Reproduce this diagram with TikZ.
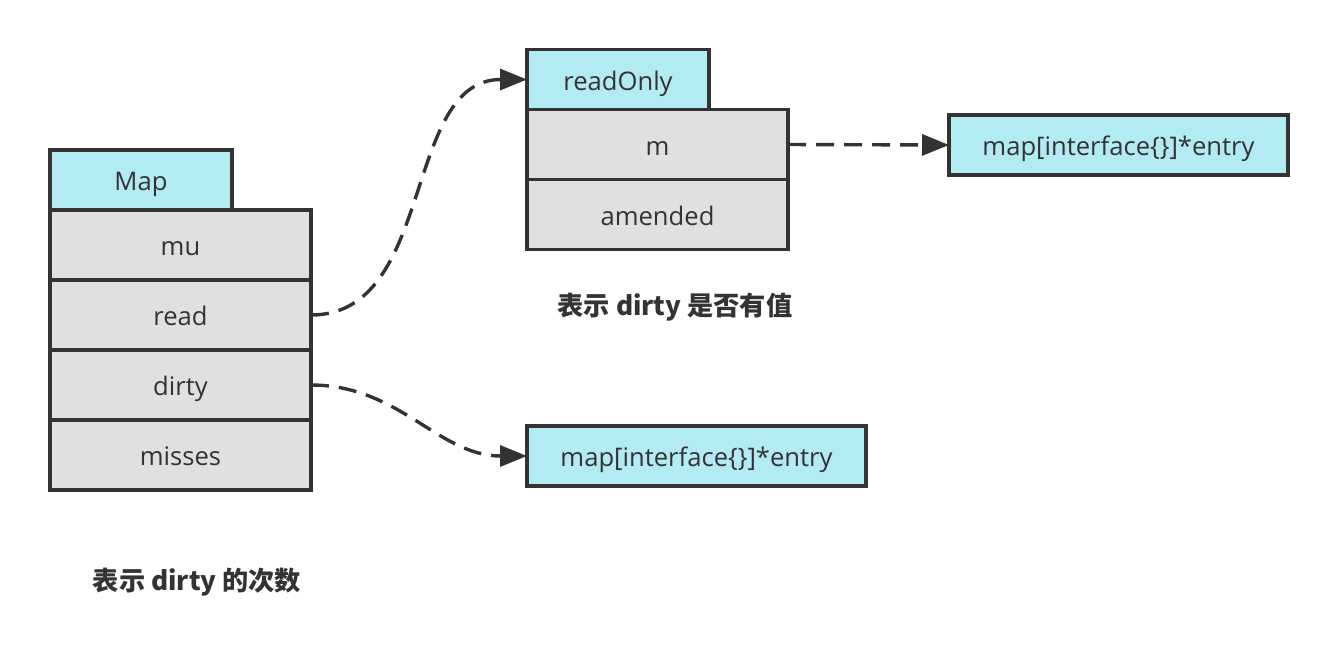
\documentclass[tikz,border=0pt]{standalone}
\usepackage{fontspec}
\setmainfont{Open Sans}
\newfontfamily\cjk{Noto Sans CJK SC}
\usetikzlibrary{positioning, arrows.meta}
\definecolor{mCyan}{HTML}{B2EBF2}
\definecolor{mGray}{HTML}{E0E0E0}
\definecolor{mDark}{HTML}{333333}
\tikzset{
  font=\fontsize{12.8}{15}\selectfont,
  node distance=0pt,
  box/.style={draw=mDark, line width=1.7pt, text=mDark, inner sep=0pt, outer sep=0pt, text height=1.32em, text depth=0.24em},
  thead/.style={box, fill=mCyan, minimum width=91pt, minimum height=30pt},
  slot/.style={box, fill=mGray, minimum width=130.5pt, minimum height=35pt},
  mapbox/.style={box, fill=mCyan, minimum width=169.5pt, minimum height=30pt},
  note/.style={text=mDark, font=\fontsize{13.1}{15}\selectfont\cjk\bfseries},
  link/.style={draw=mDark, line width=1.7pt, dash pattern=on 9pt off 5pt, -{Triangle[length=13.5pt, width=10.5pt]}}
}

\begin{document}
\begin{tikzpicture}[x=0.5pt, y=-0.5pt]
    \useasboundingbox (0,0) rectangle (1338,666);
    % Map struct
    \node[thead, anchor=north west] (map) at (50,150) {Map};
    \node[slot, anchor=north west] (mu) at (map.south west) {mu};
    \node[slot, below=of mu] (read) {read};
    \node[slot, below=of read] (dirty) {dirty};
    \node[slot, below=of dirty] (misses) {misses};
    % readOnly struct
    \node[thead, anchor=north west] (readonly) at (527,49.5) {readOnly};
    \node[slot, anchor=north west] (m) at (readonly.south west) {m};
    \node[slot, below=of m] (amended) {amended};
    % maps
    \node[mapbox] (rmap) at (1118.5,145) {map[interface\{\}]*entry};
    \node[mapbox, anchor=west] (dmap) at (527,456) {map[interface\{\}]*entry};
    % notes
    \node[note] (amendnote) at (675,307) {表示 dirty 是否有值};
    \node[note] (missnote) at (197,582) {表示 dirty 的次数};

    \draw[link] (read.east) to[out=0, in=180] (readonly.west);
    \draw[link] (dirty.east) to[out=0, in=180] (dmap.west);
    \draw[link] (m.east) -- (rmap.west);
\end{tikzpicture}
\end{document}
